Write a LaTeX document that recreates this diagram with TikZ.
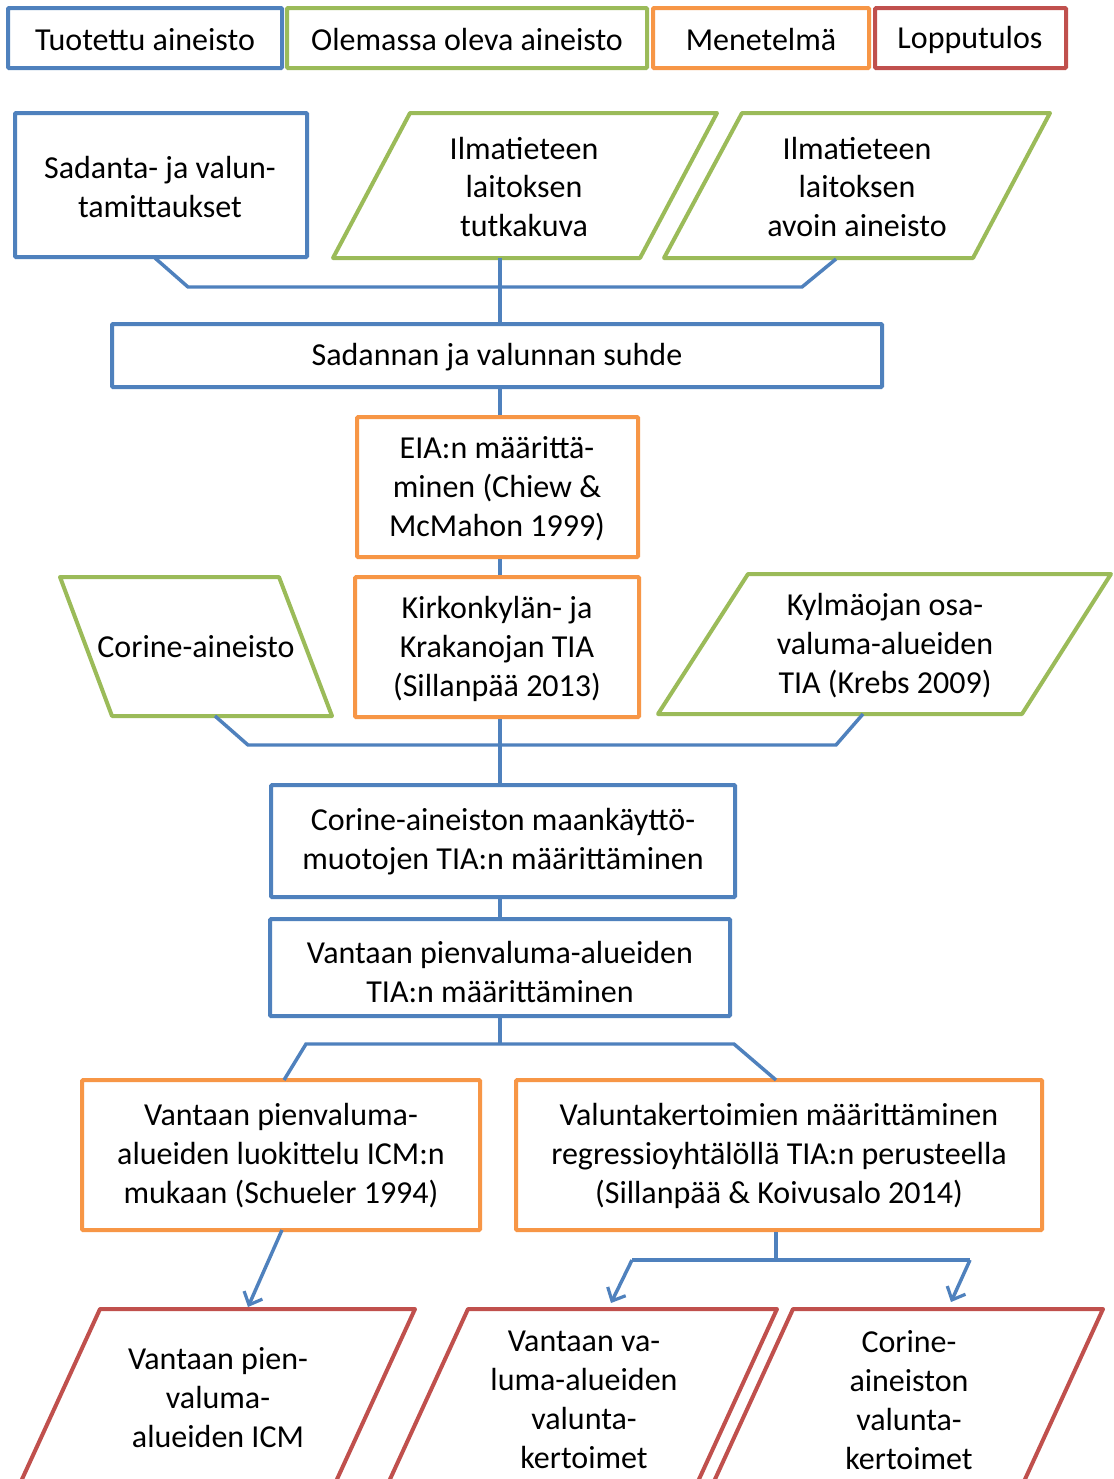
\documentclass[tikz,border=0pt]{standalone}
\usepackage{fontspec}
\setmainfont{Carlito}
\usetikzlibrary{fit,arrows.meta}
\definecolor{cblue}{HTML}{4F81BD}
\definecolor{cgreen}{HTML}{9BBB59}
\definecolor{corange}{HTML}{F79646}
\definecolor{cred}{HTML}{C0504D}
\begin{document}
\begin{tikzpicture}[x=0.75pt,y=-0.75pt,
  txt/.style={align=center, inner sep=0pt, font=\fontsize{24}{29.25}\selectfont},
  box/.style={draw, line width=3pt, rounded corners=0.8pt, inner sep=0pt},
  bbox/.style={box, draw=cblue},
  gbox/.style={box, draw=cgreen},
  obox/.style={box, draw=corange},
  rbox/.style={box, draw=cred},
  par/.style={line width=3pt, line join=round},
  conn/.style={draw=cblue, line width=2.6pt},
  arr/.style={conn, -{Straight Barb[length=8pt,width=15pt,line width=2.4pt]}}]
\useasboundingbox (0,0) rectangle (1114,1479);
\clip (0,0) rectangle (1114,1479);
\fill[white] (0,0) rectangle (1114,1479);
\coordinate (spine) at (500,0);

% legend
\node[bbox, fit={(8,8) (282,68)}] (l1) {};
\node[txt] (l1t) at (145,40) {Tuotettu aineisto};
\node[gbox, fit={(287,8) (647,68)}] (l2) {};
\node[txt] (l2t) at (467,40) {Olemassa oleva aineisto};
\node[obox, fit={(653,8) (869,68)}] (l3) {};
\node[txt] (l3t) at (761,40) {Menetelmä};
\node[rbox, fit={(875,8) (1066,68)}] (l4) {};
\node[txt] (l4t) at (970,40) {Lopputulos};

% row 1
\node[bbox, fit={(15,113) (307,257)}] (sad) {};
\node[txt] (sadt) at (160,187) {Sadanta- ja valun-\\tamittaukset};
\draw[par, cgreen] (410,113) -- (717,113) -- (640,258) -- (333,258) -- cycle;
\node[txt] (tut) at (524,187) {Ilmatieteen\\laitoksen\\tutkakuva};
\draw[par, cgreen] (742,113) -- (1050,113) -- (973,258) -- (664,258) -- cycle;
\node[txt] (avo) at (857,187) {Ilmatieteen\\laitoksen\\avoin aineisto};

\node[bbox, fit={(112,324) (882,387)}] (suhde) {};
\node[txt] (suhdet) at (497,357) {Sadannan ja valunnan suhde};

\coordinate (sadb) at (155,258);
\coordinate (j1) at (188,287);
\coordinate (j2) at (802,287);
\coordinate (avob) at (836,259);
\coordinate (tutb) at (500,258);
\draw[conn] (sadb) -- (j1) -- (j2) -- (avob);
\draw[conn] (tutb) -- (spine |- suhde.north);

% EIA
\node[obox, fit={(357,417) (638,557)}] (eia) {};
\node[txt] (eiat) at (497,489) {EIA:n määrittä-\\minen (Chiew \&\\McMahon 1999)};
\draw[conn] (spine |- suhde.south) -- (spine |- eia.north);

% row 3
\node[obox, fit={(355,577) (639,717)}] (kirk) {};
\node[txt] (kirkt) at (497,649) {Kirkonkylän- ja\\Krakanojan TIA\\(Sillanpää 2013)};
\draw[conn] (spine |- eia.south) -- (spine |- kirk.north);
\draw[par, cgreen] (60,577) -- (279,577) -- (332,716) -- (112,716) -- cycle;
\node[txt] (cor) at (196,647) {Corine-aineisto};
\draw[par, cgreen] (748,574) -- (1111,574) -- (1022,714) -- (658,714) -- cycle;
\node[txt] (kyl) at (885,646) {Kylmäojan osa-\\valuma-alueiden\\TIA (Krebs 2009)};

\node[bbox, fit={(271,785) (735,897)}] (maan) {};
\node[txt] (maant) at (503,842) {Corine-aineiston maankäyttö-\\muotojen TIA:n määrittäminen};
\coordinate (corb) at (215,716);
\coordinate (j3) at (248,745);
\coordinate (j4) at (836,745);
\coordinate (kylb) at (863,714);
\draw[conn] (corb) -- (j3) -- (j4) -- (kylb);
\draw[conn] (spine |- kirk.south) -- (spine |- maan.north);

\node[bbox, fit={(270,919) (730,1016)}] (vant) {};
\node[txt] (vantt) at (500,972) {Vantaan pienvaluma-alueiden\\TIA:n määrittäminen};
\draw[conn] (spine |- maan.south) -- (spine |- vant.north);

% methods
\node[obox, fit={(82,1080) (480,1230)}] (luok) {};
\node[txt] (luokt2) at (281,1156) {Vantaan pienvaluma-\\alueiden luokittelu ICM:n\\mukaan (Schueler 1994)};
\node[obox, fit={(516,1080) (1042,1230)}] (valk) {};
\node[txt] (valkt2) at (779,1156) {Valuntakertoimien määrittäminen\\regressioyhtälöllä TIA:n perusteella\\(Sillanpää \& Koivusalo 2014)};
\coordinate (j5) at (306,1044);
\coordinate (j6) at (734,1044);
\coordinate (luokt) at (284,1080);
\coordinate (valkt) at (776,1080);
\draw[conn] (spine |- vant.south) -- (spine |- j5);
\draw[conn] (luokt) -- (j5) -- (j6) -- (valkt);

% results
\draw[par, cred] (100,1309) -- (415,1309) -- (300,1560) -- (-15,1560) -- cycle;
\node[txt] (icm) at (218,1398) {Vantaan pien-\\valuma-\\alueiden ICM};
\draw[par, cred] (468,1309) -- (777,1309) -- (662,1560) -- (353,1560) -- cycle;
\node[txt] (vvk) at (584,1400) {Vantaan va-\\luma-alueiden\\valunta-\\kertoimet};
\draw[par, cred] (793,1309) -- (1103,1309) -- (988,1560) -- (678,1560) -- cycle;
\node[txt] (cvk) at (909,1400) {Corine-\\aineiston\\valunta-\\kertoimet};

\coordinate (luokb) at (282,1230);
\coordinate (icmt) at (248,1307);
\draw[arr] (luokb) -- (icmt);
\coordinate (j7) at (776,1260);
\coordinate (j8) at (632,1260);
\coordinate (j9) at (970,1260);
\coordinate (vvkt) at (611,1303);
\coordinate (cvkt) at (951,1302);
\draw[conn] (valk.south -| j7) -- (j7);
\draw[conn] (j8) -- (j9);
\draw[arr] (j8) -- (vvkt);
\draw[arr] (j9) -- (cvkt);
\end{tikzpicture}
\end{document}
